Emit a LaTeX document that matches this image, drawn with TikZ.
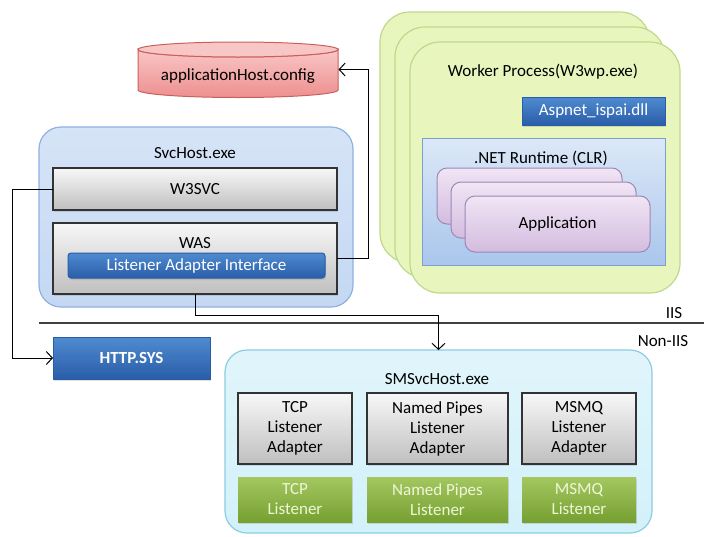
\documentclass[tikz,border=0pt]{standalone}
\usepackage{fontspec}
\setmainfont{Carlito}
\usetikzlibrary{arrows.meta,shadows}

\definecolor{svcfill}{HTML}{C4D8F3}
\definecolor{svcline}{HTML}{8FB1E0}
\definecolor{smsfill}{HTML}{D3F1FA}
\definecolor{smsline}{HTML}{8CCDE0}
\definecolor{wpfill}{HTML}{E8F6BE}
\definecolor{wpline}{HTML}{BFD88A}
\definecolor{blueA}{HTML}{4F8BD0}
\definecolor{blueB}{HTML}{2A5DA8}
\definecolor{greenA}{HTML}{A4C760}
\definecolor{greenB}{HTML}{76A032}
\definecolor{greentxt}{HTML}{EEF6D6}
\definecolor{pinkA}{HTML}{F9C6C6}
\definecolor{pinkB}{HTML}{EE8F8F}
\definecolor{pinkline}{HTML}{C9605C}
\definecolor{lilacA}{HTML}{F1E5F5}
\definecolor{lilacB}{HTML}{D3BCDF}
\definecolor{lilacline}{HTML}{9E87B5}
\definecolor{clrA}{HTML}{DCE8F8}
\definecolor{clrB}{HTML}{A9C6EC}
\definecolor{clrline}{HTML}{7E9FCC}

\begin{document}
\begin{tikzpicture}[x=1pt, y=-1pt, >={Straight Barb[length=6pt,width=13pt]},
  line width=1pt, font=\fontsize{17}{20}\selectfont,
  box/.style={rectangle, inner sep=0pt, outer sep=0pt, anchor=north west, align=center},
  shade/.style={drop shadow={opacity=0.25, shadow xshift=1pt, shadow yshift=-2pt}},
  proc/.style={box, rounded corners=22pt, line width=1.2pt},
  grey/.style={box, shade, draw=black!80, line width=1.3pt, top color=black!3, bottom color=black!25},
  bluebox/.style={box, shade, draw=blueB, top color=blueA, bottom color=blueB, text=white},
  greenbox/.style={box, shade, top color=greenA, bottom color=greenB, text=greentxt},
  wp/.style={proc, rounded corners=30pt, draw=wpline, fill=wpfill,
    minimum width=270pt, minimum height=251pt},
  app/.style={box, rounded corners=10pt, draw=lilacline, top color=lilacA, bottom color=lilacB,
    minimum width=185pt, minimum height=56pt}]
  \useasboundingbox (0,0) rectangle (704,536);

  % config store
  \path[draw=pinkline, top color=pinkA, bottom color=pinkB]
    (138,49.5) -- (138,90) arc[start angle=180, end angle=0, x radius=100, y radius=7.5]
    -- (338,49.5) arc[start angle=0, end angle=180, x radius=100, y radius=7.5] -- cycle;
  \draw[pinkline, fill=pinkA] (238,49.5) ellipse[x radius=100, y radius=7.5];
  \node[inner sep=0pt, minimum width=200pt, minimum height=55pt] (cfg) at (238,69.5) {};
  \node (cfglabel) at (238,76) {applicationHost.config};

  % worker process
  \node[wp] (wp1) at (380,12) {};
  \node[wp] (wp2) at (395,27) {};
  \node[wp] (wp3) at (410,42) {};
  \node (wplabel) at (543,72) {Worker Process(W3wp.exe)};
  \node[bluebox, minimum width=143pt, minimum height=28pt] (isapi) at (522,97) {Aspnet\_ispai.dll};
  \node[box, draw=clrline, top color=clrA, bottom color=clrB,
    minimum width=243pt, minimum height=127pt] (clr) at (422,138) {};
  \node (clrlabel) at (541,158) {.NET Runtime (CLR)};
  \node[app] (app1) at (437,168) {};
  \node[app] (app2) at (451,182) {};
  \node[app] (app3) at (465,196) {Application};

  % svchost
  \node[proc, draw=svcline, top color=svcfill!70, bottom color=svcfill,
    minimum width=314pt, minimum height=180pt] (svc) at (39,127) {};
  \node (svclabel) at (195,153) {SvcHost.exe};
  \node[grey, minimum width=284pt, minimum height=42pt] (w3svc) at (53,168) {W3SVC};
  \node[grey, minimum width=284pt, minimum height=71pt] (was) at (53,223) {};
  \node (waslabel) at (195,243) {WAS};
  \node[bluebox, rounded corners=3pt, minimum width=257pt, minimum height=25pt]
    (lai) at (68,253) {Listener Adapter Interface};

  % IIS / Non-IIS
  \coordinate (sepL) at (39,323);
  \coordinate (sepR) at (704,323);
  \draw[line width=1.2pt, black!75] (sepL) -- (sepR);
  \node (iis) at (674,313) {IIS};
  \node (noniis) at (663,341) {Non-IIS};

  \node[bluebox, minimum width=157pt, minimum height=42pt, font=\fontsize{17}{20}\selectfont\bfseries]
    (http) at (53,337) {HTTP.SYS};

  % smsvchost
  \node[proc, draw=smsline, top color=smsfill!70, bottom color=smsfill,
    minimum width=427pt, minimum height=183pt] (sms) at (225,350) {};
  \node (smslabel) at (437,379) {SMSvcHost.exe};
  \node[grey, minimum width=114pt, minimum height=71pt] (tcpa) at (238,393) {TCP\\Listener\\Adapter};
  \node[grey, minimum width=141pt, minimum height=71pt] (npa) at (367,393) {Named Pipes\\Listener\\Adapter};
  \node[grey, minimum width=114pt, minimum height=71pt] (mqa) at (522,393) {MSMQ\\Listener\\Adapter};
  \node[greenbox, minimum width=114pt, minimum height=45pt] (tcpl) at (238,477) {TCP\\Listener};
  \node[greenbox, minimum width=141pt, minimum height=45pt] (npl) at (367,477) {Named Pipes\\Listener};
  \node[greenbox, minimum width=114pt, minimum height=45pt] (mql) at (522,477) {MSMQ\\Listener};

  % connectors
  \draw[->] (w3svc.west) -- ++(-41,0) |- (http.west);
  \draw[->] (was.east) -- ++(31,0) |- (cfg.east);
  \draw[->] (was.south) -- ++(0,21) -| (sms.north);
\end{tikzpicture}
\end{document}
